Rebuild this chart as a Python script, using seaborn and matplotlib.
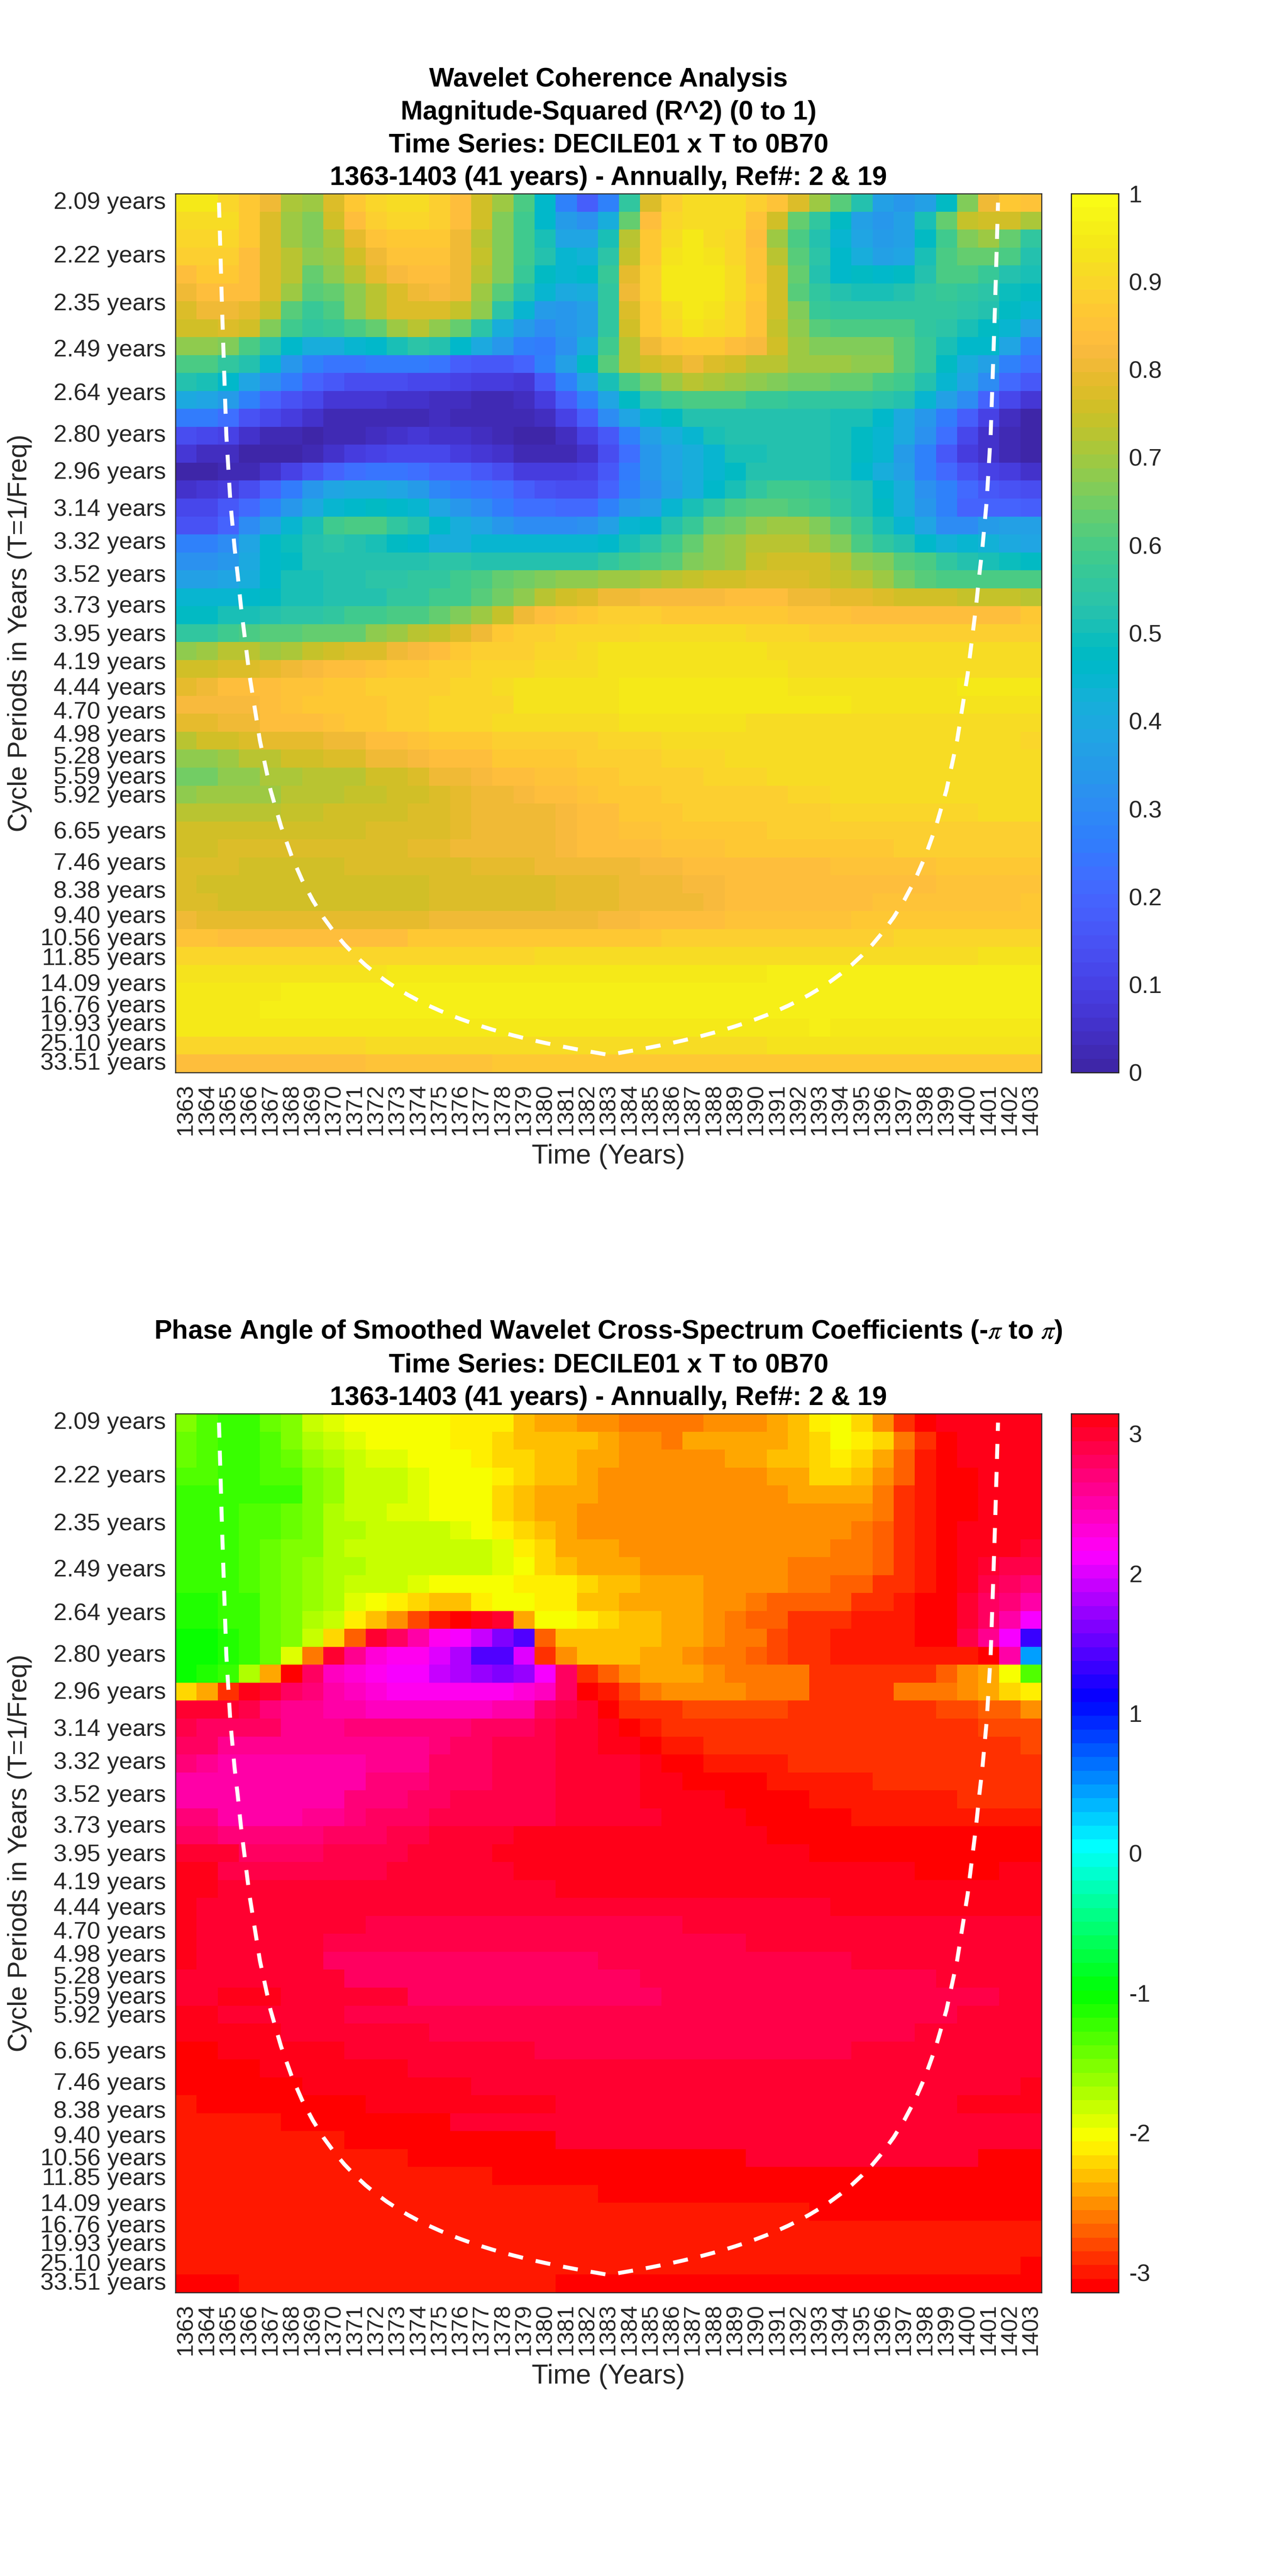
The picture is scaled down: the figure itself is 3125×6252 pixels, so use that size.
import colorsys
import numpy as np
import matplotlib
matplotlib.use("Agg")
import matplotlib.pyplot as plt
from matplotlib.colors import ListedColormap
import seaborn as sns

years = list(range(1363, 1404))
periods = [2.09,2.22,2.35,2.49,2.64,2.80,2.96,3.14,3.32,3.52,3.73,3.95,4.19,4.44,4.70,4.98,5.28,5.59,5.92,6.27,6.65,7.04,7.46,7.91,8.38,8.88,9.40,9.96,10.56,11.18,11.85,12.55,13.30,14.09,14.93,15.82,16.76,17.75,18.81,19.93,21.11,22.37,23.70,25.10,26.60,28.18,29.85,31.63,33.51]
unlabelled_periods = [6.27,7.04,7.91,8.88,9.96,11.18,12.55,13.30,14.93,15.82,17.75,18.81,21.11,22.37,23.70,26.60,28.18,29.85,31.63]
coi_offset_years = [1.56,1.7,1.8,1.91,2.1,2.3,2.45,2.6,3,3.5,4,4.5,5,5.5,6,6.5,7,7.5,8,8.5,9,9.5,10,10.5,11,11.5,12,12.5,13,13.5,14,14.5,15,15.5,16,16.5,17,17.5,18,18.5,19,19.5,20]
coi_periods = [2.09,2.35,2.55,2.80,3.10,3.35,3.52,3.73,4.30,5.05,5.8,6.52,7.25,7.98,8.7,9.43,10.15,10.88,11.6,12.33,13.05,13.78,14.5,15.23,15.95,16.68,17.4,18.13,18.85,19.58,20.3,21.03,21.75,22.48,23.2,23.93,24.65,25.38,26.1,26.83,27.55,28.3,29.1]

# R^2 in percent, one row per period, one column per year
coherence_pct = [
[94,94,90,87,80,71,70,78,86,90,92,92,88,84,76,70,60,46,28,18,27,55,78,88,92,92,92,88,85,78,70,62,52,36,33,37,48,67,81,86,85],
[92,92,92,87,78,69,67,76,83,89,90,90,88,84,75,67,58,46,35,32,42,63,84,90,92,92,91,85,75,64,56,47,37,34,37,50,64,74,76,75,71],
[90,90,90,86,77,70,67,71,79,85,87,87,86,81,73,66,58,50,39,38,50,72,87,92,94,92,90,84,70,60,52,44,38,35,37,47,58,66,70,64,56],
[88,88,88,84,77,72,68,69,76,81,85,85,85,81,74,66,58,52,44,43,54,74,87,93,95,93,90,85,72,62,54,46,41,37,39,50,60,63,63,60,53],
[84,86,86,84,78,72,64,68,73,79,82,84,84,80,73,66,57,48,44,46,57,79,88,94,95,95,92,85,75,64,53,46,47,46,47,52,60,60,57,53,50],
[80,84,84,83,77,70,62,63,68,73,77,80,82,80,70,62,53,45,40,42,55,80,88,94,95,95,92,86,76,62,56,52,50,50,52,55,57,56,54,49,48],
[78,80,80,79,74,62,57,60,68,73,77,78,78,74,68,54,45,35,33,36,55,78,87,92,95,93,90,85,75,66,57,56,56,56,56,56,55,54,52,47,44],
[76,76,78,75,66,58,55,57,60,64,70,72,68,63,54,42,35,31,33,36,56,75,86,90,93,92,90,85,74,68,62,60,60,60,60,56,54,50,48,44,36],
[68,68,66,60,54,46,42,42,44,46,50,54,52,46,40,34,28,26,32,42,58,72,80,85,86,86,84,82,75,70,67,66,66,66,62,57,50,46,46,38,28],
[60,60,56,52,44,34,28,24,24,26,26,26,24,18,16,16,20,27,37,48,62,72,75,78,80,77,75,73,72,70,70,70,68,68,62,57,47,41,36,27,22],
[52,50,46,38,32,25,20,16,13,13,13,12,11,10,8,8,7,17,28,38,50,60,65,69,72,71,70,68,66,65,65,64,64,60,58,52,44,38,30,21,16],
[40,38,35,28,20,15,12,7,7,7,5,5,4,4,3,3,4,8,18,28,38,48,56,59,60,60,60,57,57,56,56,56,56,54,52,45,36,30,20,12,7],
[25,25,22,15,12,8,5,3,3,3,3,3,4,3,3,2,2,4,10,18,30,38,44,48,52,52,52,53,53,53,53,50,50,46,40,34,26,18,10,4,1],
[14,12,10,6,3,2,1,2,2,4,5,7,6,5,4,2,1,1,4,10,16,28,36,41,45,50,52,53,53,53,53,50,48,44,40,32,22,12,6,2,1],
[7,4,4,1,1,1,3,6,8,10,11,12,11,9,7,5,3,2,3,6,13,22,34,38,42,45,50,50,52,52,53,50,47,44,35,28,17,9,6,2,1],
[1,1,2,3,6,10,15,20,23,24,24,22,20,19,17,13,9,8,8,10,16,26,33,38,42,44,48,52,53,53,53,50,46,41,36,27,21,15,10,9,6],
[6,7,9,14,20,25,33,38,40,40,38,35,29,26,24,22,18,15,14,14,20,28,32,36,42,46,50,56,58,58,57,54,52,46,41,32,28,21,17,15,13],
[12,12,16,21,28,34,40,44,46,47,46,44,38,34,30,25,23,22,21,21,27,33,37,44,50,56,60,62,62,60,59,56,53,47,41,34,27,20,19,19,18],
[15,15,20,30,36,44,50,58,60,60,56,52,46,42,38,34,30,30,30,32,36,44,46,52,57,64,65,68,70,69,66,62,57,50,44,38,30,31,35,36,36],
[27,27,30,38,46,49,52,54,52,50,48,46,42,42,44,44,44,44,44,45,46,51,54,59,63,68,70,72,73,72,70,67,60,56,52,46,43,44,43,40,38],
[32,32,34,40,46,47,52,52,52,52,52,53,54,54,53,53,52,52,52,53,56,58,60,62,66,68,70,74,76,76,75,72,68,66,62,60,55,52,50,49,48],
[36,36,38,42,46,50,50,52,52,54,54,56,56,58,60,63,65,66,68,68,70,70,71,72,74,75,76,77,77,77,76,74,72,70,65,62,60,60,60,60,60],
[44,44,44,46,48,50,50,53,53,53,55,56,58,58,62,65,68,72,76,78,80,80,82,82,82,82,83,83,83,81,81,79,79,78,76,76,75,74,74,74,72],
[48,48,50,50,52,54,54,56,58,58,60,60,63,66,70,74,80,83,85,87,89,89,88,87,87,87,87,87,87,85,85,85,84,84,84,84,84,84,84,84,86],
[56,56,58,60,62,62,64,64,64,68,70,72,74,78,80,86,88,89,90,90,90,90,91,91,91,91,91,90,90,90,88,88,88,88,88,88,88,88,88,89,89],
[68,70,72,72,70,71,74,75,78,78,80,82,84,86,88,88,89,90,90,91,93,93,93,93,93,93,93,93,92,92,92,91,91,91,91,91,91,91,92,92,92],
[75,76,78,78,79,80,82,83,84,85,86,87,88,89,90,90,90,91,92,92,93,93,93,93,93,93,93,93,93,91,91,91,91,91,91,91,91,91,92,92,92],
[79,80,83,84,84,85,85,86,87,88,88,88,89,90,90,91,93,93,93,93,93,94,94,94,94,94,94,94,94,93,93,93,93,93,93,93,93,94,94,94,94],
[82,82,82,82,84,85,86,86,87,87,88,89,90,90,90,90,93,93,93,93,93,94,94,94,94,94,94,94,94,94,94,94,93,93,93,93,93,93,93,93,93],
[79,79,81,81,83,83,83,85,86,86,88,88,90,90,90,91,91,92,92,92,92,93,93,93,93,93,93,92,92,92,92,92,92,92,92,92,92,92,92,92,92],
[73,75,75,77,79,79,79,80,81,83,84,85,86,86,87,88,89,89,89,89,90,90,90,91,91,91,91,92,92,92,92,92,92,92,92,92,92,92,92,92,90],
[68,68,70,73,73,75,76,77,78,80,80,82,83,84,84,86,86,87,87,88,88,89,89,90,90,90,91,91,91,91,91,91,91,91,91,91,91,91,91,91,91],
[65,65,68,68,71,71,73,73,73,76,76,78,80,81,82,83,84,85,85,87,87,88,88,89,89,90,90,90,91,91,91,91,91,91,91,91,91,91,91,91,91],
[68,70,70,70,70,72,72,73,74,74,76,76,78,79,80,81,82,83,84,85,86,87,87,88,88,88,89,89,89,90,90,91,91,91,91,91,91,91,91,91,91],
[72,72,72,72,73,74,74,75,75,76,76,77,78,79,80,80,81,81,82,83,84,86,86,87,88,88,88,89,89,89,89,90,90,90,90,90,90,90,91,91,91],
[75,75,75,75,76,76,76,76,76,77,77,78,78,79,80,80,80,81,82,83,84,85,85,86,86,86,87,87,88,88,88,88,88,88,89,89,89,89,89,89,89],
[76,76,77,77,77,77,78,78,78,78,78,79,79,80,80,80,81,81,82,83,83,83,84,85,85,85,86,86,86,86,87,87,87,87,88,88,88,88,88,88,88],
[77,77,77,76,76,76,76,76,78,78,78,78,78,78,79,79,79,80,80,80,81,81,82,82,83,83,84,84,84,84,84,85,85,85,85,85,86,86,86,86,86],
[77,76,76,76,76,76,76,76,76,76,76,76,77,77,78,78,78,78,79,79,79,80,80,81,82,82,83,83,83,83,84,84,84,84,84,84,85,85,85,85,85],
[77,77,76,76,76,76,76,76,76,76,76,76,77,77,78,78,78,78,79,79,79,80,80,81,81,82,83,83,84,84,84,84,84,85,85,85,85,85,85,85,86],
[81,79,79,79,79,79,79,79,79,79,79,79,80,80,80,80,81,81,81,81,82,82,83,83,84,84,85,85,85,85,85,85,86,86,86,86,86,86,87,87,87],
[85,85,84,84,84,84,84,84,84,84,84,86,86,86,86,86,86,86,87,87,87,87,87,88,88,88,88,88,89,89,89,89,89,89,90,90,90,90,90,90,90],
[90,90,90,90,90,90,90,90,90,90,90,90,90,90,90,90,90,91,91,91,91,91,91,91,91,91,92,92,92,92,92,92,92,92,92,92,92,92,93,93,93],
[93]*10+[95]*18+[96]*13,
[94]*5+[96]*36,
[94]*4+[96]*37,
[94]*3+[95]*27+[96]+[95]*10,
[90]*9+[92]*19+[93]*13,
[83]*9+[85]*6+[86]*26,
]

# phase in hundredths of a radian, one row per period, one column per year
phase_centirad = [
[-155,-130,-125,-122,-140,-150,-180,-195,-198,-200,-200,-205,-205,-208,-208,-215,-228,-240,-245,-255,-255,-258,-258,-258,-258,-255,-250,-250,-245,-228,-210,-200,-220,-255,-290,-312,305,305,305,305,305],
[-145,-130,-125,-125,-130,-150,-170,-180,-195,-198,-200,-200,-205,-210,-212,-220,-230,-232,-235,-235,-240,-250,-250,-258,-245,-245,-245,-245,-240,-230,-220,-205,-208,-225,-258,-290,-311,305,305,305,305],
[-145,-130,-125,-125,-128,-140,-160,-170,-185,-190,-195,-198,-198,-205,-208,-220,-225,-232,-232,-245,-245,-250,-250,-250,-250,-250,-245,-240,-232,-230,-220,-215,-220,-245,-270,-300,-307,306,306,305,305],
[-130,-130,-125,-125,-128,-130,-155,-165,-180,-180,-180,-190,-198,-200,-202,-212,-218,-230,-232,-240,-248,-250,-250,-250,-250,-250,-250,-250,-245,-240,-225,-225,-235,-248,-272,-302,-311,-312,305,305,305],
[-125,-125,-125,-118,-118,-125,-150,-165,-180,-180,-185,-195,-198,-200,-205,-220,-230,-240,-238,-240]+[-250]*9+[-240,-240,-240,-245,-260,-285,-302,-312,-312,305,305,305],
[-125,-125,-125,-130,-130,-145,-155,-170,-182,-182,-190,-196,-198,-200,-206,-220,-232,-242,-242,-250]+[-250]*12+[-255,-265,-288,-302,-312,-312,306,305,305],
[-125,-125,-125,-128,-130,-145,-155,-172,-175,-182,-182,-182,-185,-195,-198,-215,-225,-235,-245,-250]+[-250]*12+[-260,-272,-290,-300,-312,306,306,305,305],
[-125,-125,-125,-130,-140,-150,-155,-170,-178,-178,-178,-178,-178,-178,-178,-192,-210,-225,-240,-245,-245,-255,-255,-255,-255,-255,-255,-255,-255,-255,-255,-260,-265,-272,-290,-300,-307,306,306,305,300],
[-125,-122,-125,-130,-140,-150,-160,-170,-175,-180,-180,-180,-180,-180,-180,-190,-200,-225,-235,-240,-245,-245,-250,-250,-250,-250,-250,-250,-255,-260,-260,-260,-265,-272,-290,-300,-307,306,300,285,285],
[-118,-118,-122,-128,-140,-150,-160,-170,-180,-185,-185,-195,-198,-198,-202,-205,-208,-208,-215,-225,-230,-235,-240,-240,-240,-250,-250,-255,-255,-262,-262,-272,-272,-285,-290,-300,-307,306,285,280,270],
[-112,-112,-118,-125,-140,-150,-160,-170,-190,-205,-215,-220,-228,-232,-215,-205,-202,-215,-215,-232,-232,-240,-240,-240,-240,-248,-250,-265,-270,-270,-272,-272,-290,-290,-300,-307,-312,296,280,270,250],
[-112,-112,-118,-125,-142,-155,-170,-185,-210,-235,-255,-275,-295,-312,306,300,-240,-200,-200,-215,-218,-230,-235,-240,-240,-248,-258,-268,-270,-285,-285,-293,-295,-295,-304,-311,-312,296,275,250,210],
[-105,-105,-115,-122,-140,-155,-185,-225,-270,300,280,250,225,210,190,160,140,-270,-228,-228,-228,-228,-228,-240,-240,-250,-258,-265,-275,-285,-290,-295,-300,-300,-304,-311,-312,290,262,210,135],
[-105,-105,-112,-125,-145,-195,-265,300,265,235,225,220,200,178,145,145,200,-290,-250,-232,-232,-232,-240,-240,-250,-258,-265,-272,-280,-289,-290,-295,-295,-295,-295,-300,-300,-304,-312,250,40],
[-105,-112,-125,-175,-240,-312,280,245,228,220,215,210,195,185,175,160,175,210,280,-290,-270,-250,-245,-245,-245,-250,-258,-258,-265,-265,-285,-288,-288,-288,-288,-288,-270,-250,-240,-200,-130],
[-222,-240,-285,306,300,280,270,250,240,232,225,225,225,225,225,225,228,240,275,-312,-295,-275,-258,-250,-250,-250,-250,-265,-265,-265,-285,-285,-285,-285,-265,-265,-265,-250,-240,-225,-212],
[300,300,300,290,270,262,262,255,255,242,240,240,240,240,242,250,250,280,285,300,-312,-290,-285,-285,-280,-280,-280,-280,-280,-285,-285,-285,-285,-285,-285,-285,-275,-275,-266,-266,-255],
[292,278,278,278,275,262,262,262,270,270,270,270,270,270,275,278,278,288,296,296,306,-312,-300,-290,-290,-285,-285,-285,-285,-285,-285,-285,-285,-285,-285,-285,-285,-285,-275,-275,-275],
[275,275,262,262,262,262,262,262,262,262,262,262,270,278,278,285,290,290,296,296,306,306,-312,-300,-300,-290,-290,-290,-290,-290,-290,-290,-290,-290,-290,-290,-287,-287,-287,-287,-275],
[270,262,250,250,250,250,250,250,250,262,262,262,275,275,278,285,285,285,296,296,296,296,306,-312,-312,-300,-300,-300,-300,-290,-290,-290,-290,-290,-290,-290,-290,-288,-288,-288,-288],
[250,250,250,250,250,250,250,250,250,270,270,270,278,278,280,290,290,290,296,296,296,296,306,306,-312,-312,-312,-312,-304,-304,-304,-304,-304,-288,-288,-288,-288,-288,-285,-285,-285],
[252,252,252,252,250,250,250,250,270,270,270,280,280,290,290,294,294,294,296,300,300,300,306,306,306,306,-312,-312,-312,-312,-300,-300,-300,-295,-295,-295,-295,-290,-288,-288,-288],
[270,270,255,255,255,255,262,262,270,278,278,278,285,285,292,292,292,292,300,300,300,300,300,306,306,306,306,-312,-312,-312,-312,-312,-300,-300,-300,-300,-300,-300,-300,-300,-300],
[280,280,270,270,270,270,270,280,280,280,290,290,296,296,296,296]+[306]*12+[-312]*13,
[296]*3+[278]*4+[290]*4+[296]*4+[306]*15+[-312]*11,
[306]*2+[285]*8+[296]*6+[306]*19+[-312]*4+[306]*2,
[306]*2+[296]*16+[306]*23,
[306]+[296]*30+[306]*10,
[306]+[296]*8+[285]*4+[290]*11+[296]*17,
[306]+[296]*6+[285]*10+[290]*10+[296]*14,
[306]+[296]*6+[282]*13+[290]*12+[296]*9,
[300]*2+[296]*6+[282]*14+[290]*14+[296]*5,
[300]*2+[306]*3+[296]*6+[280]*12+[290]*15+[286]+[296]*2,
[306]*2+[300]*6+[292]*29+[296]*4,
[306]*5+[300]*3+[296]*4+[290]*23+[296]*6,
[-312]*2+[306]*6+[296]*9+[287]*15+[296]*9,
[-312]*4+[306]*7+[296]*30,
[-312]*6+[306]*8+[296]*26+[306],
[-300]+[-312]*8+[306]*9+[296]*19+[306]*4,
[-300]*5+[-312]*8+[300]*28,
[-300]*8+[-312]*10+[300]*23,
[-300]*11+[-312]*16+[300]*11+[-312]*3,
[-300]*15+[-312]*26,
[-300]*20+[-312]*21,
[-300]*30+[-312]*11,
[-300]*41,
[-300]*41,
[-300]*40+[-312],
[-312]*3+[-300]*15+[-312]*23,
]

parula = [[.2422,.1504,.6603],[.2504,.1650,.7076],[.2578,.1818,.7511],[.2647,.1978,.7952],[.2706,.2147,.8364],[.2751,.2342,.8710],[.2783,.2559,.8991],[.2803,.2782,.9221],[.2813,.3006,.9414],[.2810,.3228,.9579],[.2795,.3447,.9717],[.2760,.3667,.9829],[.2699,.3892,.9906],[.2602,.4123,.9952],[.2440,.4358,.9988],[.2206,.4603,.9973],[.1963,.4847,.9892],[.1834,.5074,.9798],[.1786,.5289,.9682],[.1764,.5499,.9520],[.1687,.5703,.9359],[.1540,.5902,.9218],[.1460,.6091,.9079],[.1380,.6276,.8973],[.1248,.6459,.8883],[.1113,.6635,.8763],[.0952,.6798,.8598],[.0689,.6948,.8394],[.0297,.7082,.8163],[.0036,.7203,.7917],[.0067,.7312,.7660],[.0433,.7411,.7394],[.0964,.7500,.7120],[.1408,.7584,.6842],[.1717,.7670,.6554],[.1938,.7758,.6251],[.2161,.7843,.5923],[.2470,.7918,.5567],[.2906,.7973,.5188],[.3406,.8008,.4789],[.3909,.8029,.4354],[.4456,.8024,.3909],[.5044,.7993,.3480],[.5616,.7942,.3045],[.6174,.7876,.2612],[.6720,.7793,.2227],[.7242,.7698,.1910],[.7738,.7598,.1646],[.8203,.7498,.1535],[.8634,.7406,.1596],[.9035,.7330,.1774],[.9393,.7288,.2100],[.9728,.7298,.2394],[.9956,.7434,.2371],[.9970,.7659,.2199],[.9952,.7861,.1999],[.9892,.8137,.1881],[.9786,.8386,.1650],[.9676,.8639,.1426],[.9610,.8890,.1152],[.9597,.9135,.0948],[.9628,.9373,.0905],[.9691,.9606,.0850],[.9769,.9839,.0805]]
hsv64 = [colorsys.hsv_to_rgb(i / 64, 1, 1) for i in range(64)]

sns.set_theme(style="white")
plt.rcParams["font.family"] = ["Liberation Sans", "DejaVu Sans"]
plt.rcParams["mathtext.fontset"] = "stix"

W, H = 3125, 6252
DARK = "#262626"
fig = plt.figure(figsize=(W / 300, H / 300), dpi=300, facecolor="white")

def box(x0, y0, x1, y1):
    return [x0 / W, 1 - y1 / H, (x1 - x0) / W, (y1 - y0) / H]

def row_of(T):
    f0, f1 = 1 / periods[0], 1 / periods[-1]
    return 0.5 + (f0 - 1 / np.asarray(T)) / ((f0 - f1) / 48)

def panel(values, title, top, cmap, vmin, vmax, cticks, clabels):
    bottom = top + 2133
    ax = fig.add_axes(box(426, top, 2529, bottom))
    cax = fig.add_axes(box(2601, top, 2716, bottom))
    sns.heatmap(values, ax=ax, cbar_ax=cax, cmap=cmap, vmin=vmin, vmax=vmax)
    left = np.array(coi_offset_years) + 0.5
    xs = np.concatenate([left, (41 - left)[::-1][1:]])
    ys = np.concatenate([row_of(coi_periods), row_of(coi_periods)[::-1][1:]])
    sns.lineplot(x=xs, y=ys, ax=ax, sort=False, estimator=None, color="white",
                 linewidth=2.3, linestyle=(0, (3.8, 3.3)), dash_capstyle="butt")
    ax.set_xlim(0, 41)
    ax.set_ylim(49, 0)
    ax.set_xticks(np.arange(41) + 0.5)
    ax.set_xticklabels(years, rotation=90, fontsize=13.5, color=DARK)
    ax.set_yticks(row_of(periods))
    ax.set_yticklabels(["" if p in unlabelled_periods else f"{p:.2f} years" for p in periods],
                       rotation=0, fontsize=14, color=DARK)
    ax.tick_params(axis="x", direction="in", length=5, width=0.6, color=DARK, top=True, bottom=True, pad=6.5)
    ax.tick_params(axis="y", direction="in", length=5, width=0.6, color=DARK, left=True, right=True, pad=5.5)
    for s in ax.spines.values():
        s.set_visible(True)
        s.set_linewidth(0.6)
        s.set_color(DARK)
    ax.set_xlabel("Time (Years)", fontsize=15.8, color=DARK, va="center")
    ax.xaxis.set_label_coords(0.5, -204 / 2133)
    ax.set_ylabel("Cycle Periods in Years (T=1/Freq)", fontsize=15.4, color=DARK, va="center")
    ax.yaxis.set_label_coords(-378 / 2103, 0.5)
    ax.set_title(title, fontsize=15.45, fontweight="bold", color="black", linespacing=1.42, pad=5)
    cax.set_yticks(cticks)
    cax.set_yticklabels(clabels, fontsize=14, color=DARK)
    cax.tick_params(axis="y", direction="in", length=5, width=0.6, color=DARK, right=True, left=False, pad=6)
    for s in cax.spines.values():
        s.set_visible(True)
        s.set_linewidth(0.6)
        s.set_color(DARK)

panel(np.array(coherence_pct) / 100,
      "Wavelet Coherence Analysis\nMagnitude-Squared (R^2) (0 to 1)\nTime Series: DECILE01 x T to 0B70\n1363-1403 (41 years) - Annually, Ref#: 2 & 19",
      470, ListedColormap(parula), 0, 1,
      [0, .1, .2, .3, .4, .5, .6, .7, .8, .9, 1],
      ["0", "0.1", "0.2", "0.3", "0.4", "0.5", "0.6", "0.7", "0.8", "0.9", "1"])
panel(np.array(phase_centirad) / 100,
      "Phase Angle of Smoothed Wavelet Cross-Spectrum Coefficients (-$\\pi$ to $\\pi$)\nTime Series: DECILE01 x T to 0B70\n1363-1403 (41 years) - Annually, Ref#: 2 & 19",
      3431, ListedColormap(hsv64), -np.pi, np.pi,
      [-3, -2, -1, 0, 1, 2, 3], ["-3", "-2", "-1", "0", "1", "2", "3"])

fig.savefig("out.png", dpi=300, facecolor="white")
